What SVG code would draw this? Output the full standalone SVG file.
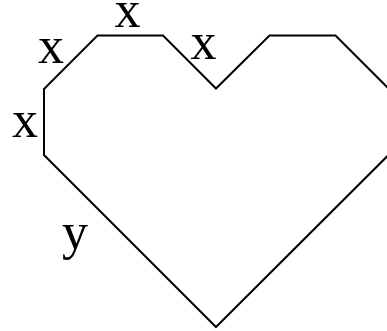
<svg xmlns="http://www.w3.org/2000/svg" width="387" height="331" viewBox="0 0 387 331">
<style>
.lbl{font-family:"Liberation Serif","Times New Roman",serif;font-size:52px;fill:#000;text-anchor:middle}
.edge{fill:none;stroke:#000;stroke-width:2;stroke-linejoin:miter}
</style>
<rect width="387" height="331" fill="#fff"/>
<g id="heart">
<path class="edge" d="M44,89 L97.5,35.5 L163,35.5 L216,88.5 L269.5,35.5 L335.5,35.5 L388.5,88.5 L388.5,155 L216,327 L44,155 Z"/>
</g>
<g id="labels">
<text class="lbl" x="51" y="63">x</text>
<text class="lbl" x="127.5" y="27">x</text>
<text class="lbl" x="203.5" y="59">x</text>
<text class="lbl" x="25" y="137">x</text>
<text class="lbl" x="75" y="249">y</text>
</g>
</svg>
